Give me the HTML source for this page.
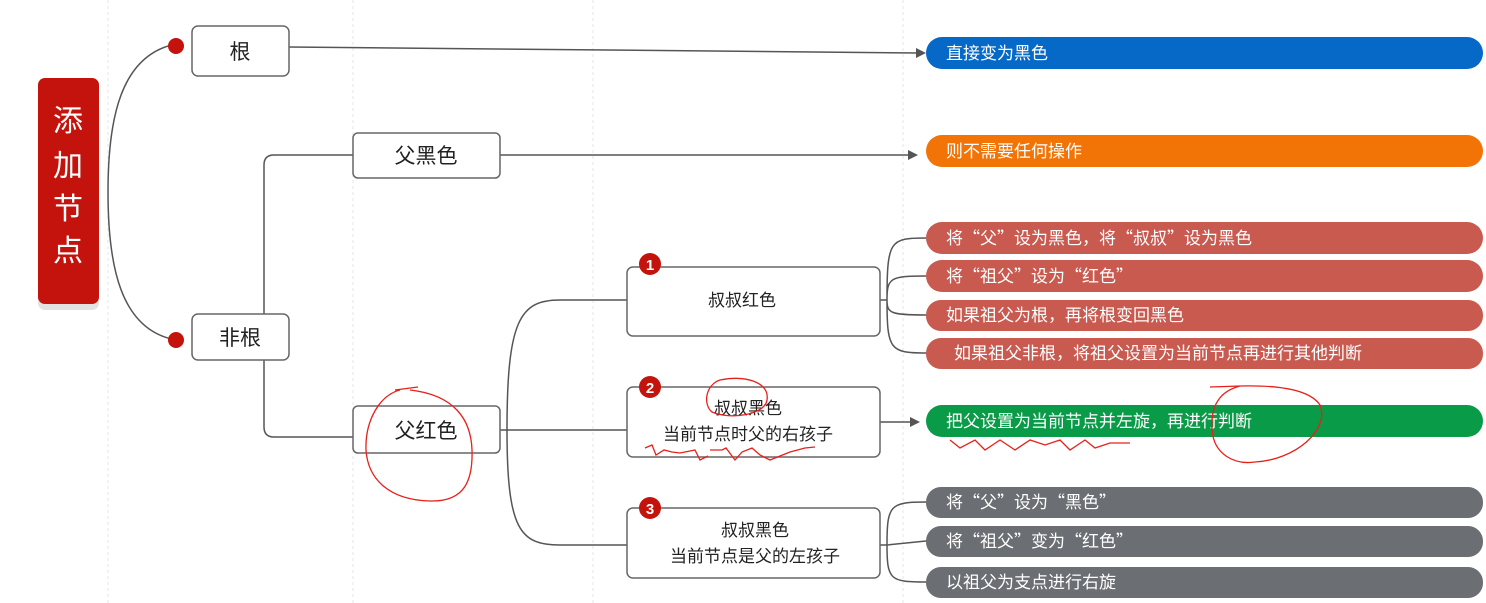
<!DOCTYPE html>
<html><head><meta charset="utf-8"><style>
html,body{margin:0;padding:0;background:#fff;}
svg{display:block;font-family:"Liberation Sans","Noto Sans CJK SC",sans-serif;}
</style></head><body>
<svg width="1486" height="603" viewBox="0 0 1486 603" xmlns="http://www.w3.org/2000/svg">
<g stroke="#e4e4e4" stroke-dasharray="3,3" stroke-width="1">
<line x1="108" y1="0" x2="108" y2="603"/><line x1="353" y1="0" x2="353" y2="603"/>
<line x1="593" y1="0" x2="593" y2="603"/><line x1="903" y1="0" x2="903" y2="603"/>
</g>
<rect x="38" y="84" width="61" height="226" rx="7" fill="#e2e2e2"/>
<rect x="38" y="78" width="61" height="226" rx="7" fill="#c4130c"/>
<g fill="#fff" font-size="30" text-anchor="middle">
<text x="68" y="131">添</text><text x="68" y="176">加</text><text x="68" y="219">节</text><text x="68" y="261">点</text>
</g>
<g fill="none" stroke="#555" stroke-width="1.5">
<path d="M176,44 C120,55 108,120 108,192 C108,265 120,330 176,340"/>
<path d="M264,314 L264,165 Q264,155 274,155 L353,155"/>
<path d="M264,360 L264,427 Q264,437 274,437 L353,437"/>
<path d="M289,47 L918,53"/>
<path d="M500,155 L916,155"/>
<path d="M500,430 L507,430 C507,320 520,300 560,300 L627,300"/>
<path d="M507,430 L627,430"/>
<path d="M507,430 C507,530 520,545 560,545 L627,545"/>
<path d="M880,300 L887,300 M887,300 C887,240 890,238 926,238 M887,300 C887,278 890,276 926,276 M887,300 C887,313 890,315 926,315 M887,300 C887,350 890,353 926,353"/>
<path d="M880,422 L918,422"/>
<path d="M880,545 L887,545 M887,545 C887,505 890,502 926,502 M887,545 L926,541 M887,545 C887,580 890,582 926,582"/>
</g>
<g fill="#555">
<path d="M926,53 L916,48 L916,58Z"/><path d="M918,155 L908,150 L908,160Z"/><path d="M920,422 L910,417 L910,427Z"/>
</g>
<circle cx="176" cy="46" r="8" fill="#c4130c"/><circle cx="176" cy="340" r="8" fill="#c4130c"/>
<g fill="#fff" stroke="#666" stroke-width="1.5">
<rect x="192" y="26" width="97" height="50" rx="6"/>
<rect x="192" y="314" width="97" height="46" rx="6"/>
<rect x="353" y="133" width="147" height="45" rx="5"/>
<rect x="353" y="406" width="147" height="47" rx="5"/>
<rect x="627" y="267" width="253" height="69" rx="6"/>
<rect x="627" y="387" width="253" height="70" rx="6"/>
<rect x="627" y="508" width="253" height="70" rx="6"/>
</g>
<g fill="#222" font-size="21" text-anchor="middle">
<text x="240" y="59">根</text><text x="240" y="345">非根</text>
<text x="426" y="163">父黑色</text><text x="426" y="438">父红色</text>
</g>
<g fill="#222" font-size="17" text-anchor="middle">
<text x="742" y="306">叔叔红色</text>
<text x="748" y="414">叔叔黑色</text><text x="748" y="440">当前节点时父的右孩子</text>
<text x="755" y="536">叔叔黑色</text><text x="755" y="562">当前节点是父的左孩子</text>
</g>
<g fill="#c4130c"><circle cx="650" cy="264" r="11"/><circle cx="650" cy="387" r="11"/><circle cx="650" cy="508" r="11"/></g>
<g fill="#fff" font-size="15" font-weight="bold" text-anchor="middle">
<text x="650" y="270">1</text><text x="650" y="393">2</text><text x="650" y="514">3</text>
</g>
<rect x="926" y="37" width="557" height="32" rx="16" fill="#0668c7"/>
<rect x="926" y="135" width="557" height="32" rx="16" fill="#f27407"/>
<g fill="#c95a50">
<rect x="926" y="222" width="557" height="32" rx="16"/><rect x="926" y="260" width="557" height="32" rx="16"/>
<rect x="926" y="300" width="557" height="31" rx="15"/><rect x="926" y="338" width="557" height="31" rx="15"/>
</g>
<rect x="926" y="405" width="557" height="32" rx="16" fill="#0a9b48"/>
<g fill="#6b6e72">
<rect x="926" y="487" width="557" height="31" rx="15"/><rect x="926" y="526" width="557" height="31" rx="15"/><rect x="926" y="567" width="557" height="31" rx="15"/>
</g>
<g fill="#fff" font-size="17" font-family="Noto Sans CJK SC, sans-serif">
<text x="946" y="59">直接变为黑色</text>
<text x="946" y="157">则不需要任何操作</text>
<text x="946" y="244">将“父”设为黑色，将“叔叔”设为黑色</text>
<text x="946" y="282">将“祖父”设为“红色”</text>
<text x="946" y="321">如果祖父为根，再将根变回黑色</text>
<text x="954" y="359">如果祖父非根，将祖父设置为当前节点再进行其他判断</text>
<text x="946" y="427">把父设置为当前节点并左旋，再进行判断</text>
<text x="946" y="508">将“父”设为“黑色”</text>
<text x="946" y="547">将“祖父”变为“红色”</text>
<text x="946" y="588">以祖父为支点进行右旋</text>
</g>
<g fill="none" stroke="#e8201a" stroke-width="1.3">
<path d="M400,390 C380,395 365,420 366,450 C368,480 390,500 430,501 C465,502 473,480 472,450 C471,420 455,395 410,390 M395,390 L418,387"/>
<path d="M720,380 C705,385 703,405 712,412 C730,420 765,415 767,400 C770,382 745,375 720,380"/>
<path d="M645,448 L652,445 L656,455 L664,450 L672,452 L680,453 L695,450 L700,460 L708,456 M710,450 L722,450 L726,448 L735,460 L742,452 L752,448 L760,455 L770,460 L790,452 L805,448 L815,447"/>
<path d="M1210,387 L1240,386 C1225,390 1210,400 1212,430 C1214,455 1235,465 1255,462 C1295,460 1330,430 1320,405 C1310,390 1280,385 1240,386"/>
<path d="M950,440 L960,448 L975,440 L985,450 L1000,440 L1015,450 L1030,440 L1045,445 L1060,440 L1070,450 L1085,440 L1095,448 L1110,443 L1130,443"/>
</g>
</svg>
</body></html>
